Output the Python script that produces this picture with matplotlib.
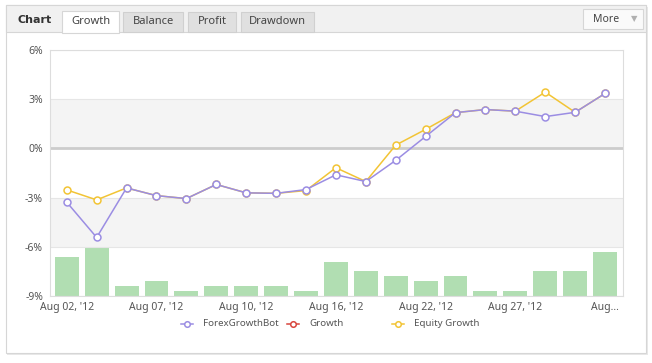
import matplotlib
matplotlib.use("Agg")
import matplotlib.pyplot as plt
from matplotlib.patches import Rectangle
from matplotlib.lines import Line2D
import numpy as np

# data
dates = ["Aug 02, '12", "Aug 03, '12", "Aug 06, '12", "Aug 07, '12", "Aug 08, '12",
         "Aug 09, '12", "Aug 10, '12", "Aug 13, '12", "Aug 14, '12", "Aug 16, '12",
         "Aug 17, '12", "Aug 20, '12", "Aug 22, '12", "Aug 23, '12", "Aug 24, '12",
         "Aug 27, '12", "Aug 28, '12", "Aug 29, '12", "Aug 30, '12"]
bot_growth = [-3.28, -5.43, -2.41, -2.88, -3.06, -2.20, -2.71, -2.74, -2.51, -1.61,
              -2.02, -0.73, 0.73, 2.18, 2.37, 2.27, 1.94, 2.20, 3.35]
equity_growth = [-2.53, -3.14, -2.41, -2.88, -3.06, -2.20, -2.71, -2.74, -2.57, -1.18,
                 -2.02, 0.20, 1.16, 2.18, 2.37, 2.27, 3.43, 2.20, 3.35]
trades = [8, 10, 2, 3, 1, 2, 2, 2, 1, 7, 5, 4, 3, 4, 1, 1, 5, 5, 9]
tick_idx = [0, 3, 6, 9, 12, 15, 18]
tick_labels = ["Aug 02, '12", "Aug 07, '12", "Aug 10, '12", "Aug 16, '12",
               "Aug 22, '12", "Aug 27, '12", "Aug..."]
yticks = [-9, -6, -3, 0, 3, 6]
tabs = ["Growth", "Balance", "Profit", "Drawdown"]
legend_names = ["ForexGrowthBot", "Growth", "Equity Growth"]

W, H = 652, 363
purple = "#9b8de3"
red = "#d8453d"
yellow = "#f2c435"
green = "#b1deb2"
txt = "#555555"

plt.rcParams['font.family'] = ['Noto Sans', 'DejaVu Sans']
fig = plt.figure(figsize=(W / 100, H / 100), dpi=100)
fig.patch.set_facecolor("white")

def fx(x):
    return x / W

def fy(y):
    return 1 - y / H

def rect(x0, y0, x1, y1, **kw):
    fig.add_artist(Rectangle((fx(x0), fy(y1)), fx(x1) - fx(x0), fy(y0) - fy(y1),
                             transform=fig.transFigure, **kw))

# outer panel with a soft shadow
rect(7, 7, 648, 355, facecolor="#e8e8e8", edgecolor="none", zorder=0)
rect(6, 5, 646, 353, facecolor="white", edgecolor="#d6d6d6", lw=0.8, zorder=0.1)
# header bar
rect(6, 5, 646, 32, facecolor="#f1f1f1", edgecolor="#d6d6d6", lw=0.8, zorder=0.2)
fig.text(fx(18), fy(20), "Chart", fontsize=8, fontweight="bold", color="#333333",
         va="center", ha="left", family="DejaVu Sans")
tab_x = [(62, 119), (123, 183), (188, 236), (241, 314)]
for i, (name, (a, b)) in enumerate(zip(tabs, tab_x)):
    if i == 0:
        rect(a, 11, b, 33, facecolor="white", edgecolor="#d6d6d6", lw=0.8, zorder=0.3)
    else:
        rect(a, 12, b, 32, facecolor="#e0e0e0", edgecolor="#d0d0d0", lw=0.8, zorder=0.3)
    fig.text(fx((a + b) / 2), fy(22), name, fontsize=8, color="#444444",
             ha="center", va="center", zorder=3)
# More button
rect(583, 9, 643, 29, facecolor="#fafafa", edgecolor="#d6d6d6", lw=0.8, zorder=0.3)
fig.text(fx(606), fy(19.5), "More", fontsize=7.5, color="#444444", ha="center",
         va="center", zorder=3)
fig.text(fx(634), fy(19), "\u25bc", fontsize=6, color="#b0b0b0", ha="center",
         va="center", zorder=3, family="DejaVu Sans")

# plot area
ax = fig.add_axes([fx(50), fy(296), fx(623) - fx(50), fy(50) - fy(296)])
ax2 = ax.twinx()
ax.set_zorder(5)
ax2.set_zorder(4)
ax.patch.set_visible(False)
ax2.patch.set_visible(False)

x = np.arange(len(dates))
ax2.bar(x, trades, width=0.8, color=green, edgecolor="none", zorder=1)
ax2.set_ylim(0, 50)
ax2.set_yticks([])
for s in ax2.spines.values():
    s.set_visible(False)

ax.axhspan(0, 3, color="#f4f4f4", zorder=0, lw=0)
ax.axhspan(-6, -3, color="#f4f4f4", zorder=0, lw=0)
for v in yticks:
    ax.axhline(v, color="#e6e6e6", lw=0.8, zorder=0.5)
ax.axhline(0, color="#cccccc", lw=2, zorder=0.6)

ax.plot(x, equity_growth, color=yellow, lw=1.1, marker="o", ms=5,
        mfc="white", mec=yellow, mew=1.1, zorder=3)
ax.plot(x, bot_growth, color=purple, lw=1.1, marker="o", ms=5,
        mfc="white", mec=purple, mew=1.1, zorder=4)

ax.set_xlim(-0.56, 18.6)
ax.set_ylim(-9, 6)
ax.set_yticks(yticks)
ax.set_yticklabels(["%d%%" % v for v in yticks])
ax.set_xticks(tick_idx)
ax.set_xticklabels(tick_labels)
ax.tick_params(axis="both", length=0, labelsize=7.5, colors=txt)
ax.tick_params(axis="y", pad=5)
ax.tick_params(axis="x", pad=4)
for s in ax.spines.values():
    s.set_color("#dddddd")
    s.set_linewidth(0.8)

# legend
leg_y = 324
for name, col, mx in zip(legend_names, [purple, red, yellow], [187, 293, 398]):
    fig.add_artist(Line2D([fx(mx - 6), fx(mx + 6)], [fy(leg_y), fy(leg_y)],
                          transform=fig.transFigure, color=col, lw=1.1))
    fig.add_artist(Line2D([fx(mx)], [fy(leg_y)], transform=fig.transFigure,
                          marker="o", ms=4, mfc="white", mec=col, mew=1.1))
    fig.text(fx(mx + 16), fy(leg_y), name, fontsize=7, color=txt,
             ha="left", va="center")

fig.savefig("out.png", dpi=100)
